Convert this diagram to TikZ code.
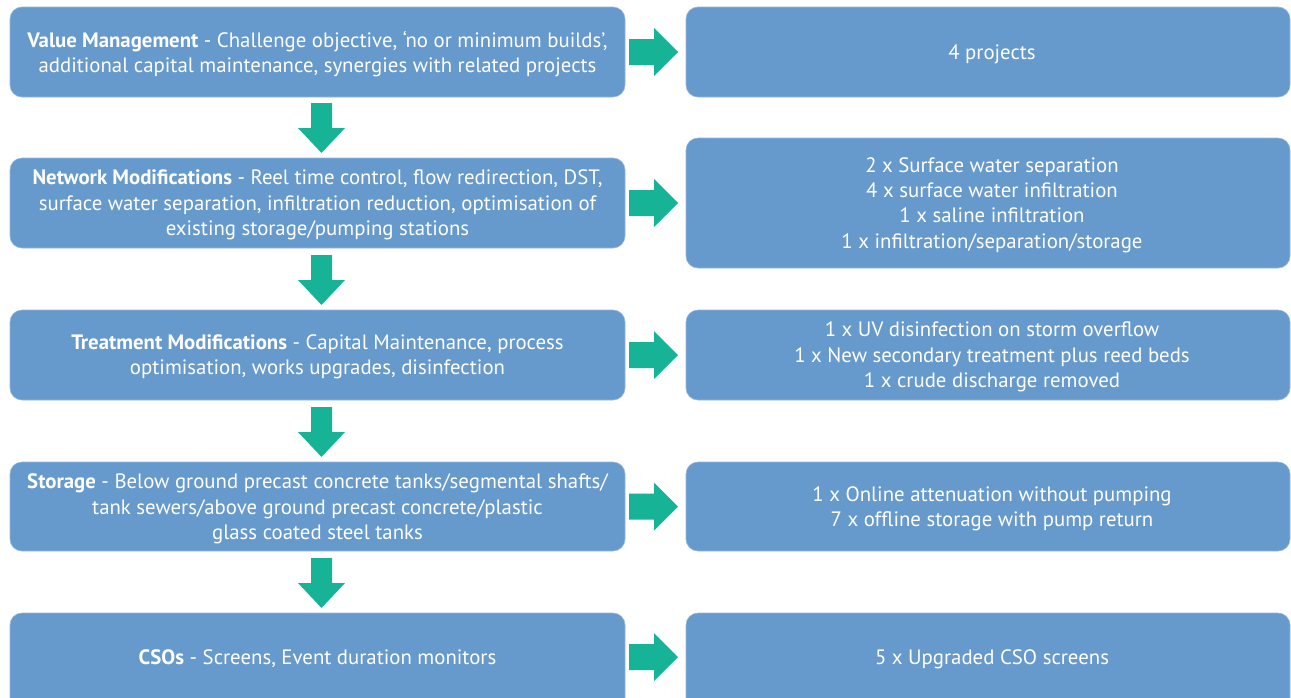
\documentclass[tikz,border=0pt]{standalone}
\usepackage{fontspec}
\setmainfont{PT Sans}
\definecolor{boxblue}{HTML}{6699CC}
\definecolor{arrowgreen}{HTML}{16B396}
\tikzset{
  x=1pt, y=-1pt,
  flowbox/.style={fill=boxblue, draw=boxblue!70!white, line width=0.6pt, rounded corners=12pt},
  boxtext/.style={text=white, align=center, font=\fontsize{20.8}{25.4}\selectfont, inner sep=0pt},
  garrow/.style={fill=arrowgreen, draw=none},
}
\begin{document}
\begin{tikzpicture}
\useasboundingbox (0,0) rectangle (1291,697);
\clip (0,0) rectangle (1291,697);
% left boxes
\draw[flowbox] (10,7) rectangle (625,97);
\draw[flowbox] (10,158) rectangle (625,248);
\draw[flowbox] (10,310) rectangle (625,400);
\draw[flowbox] (10,462) rectangle (625,551);
\draw[flowbox] (10,613) rectangle (625,715);
% right boxes
\draw[flowbox] (686,7) rectangle (1290,97);
\draw[flowbox] (686,138) rectangle (1290,268);
\draw[flowbox] (686,310) rectangle (1290,400);
\draw[flowbox] (686,462) rectangle (1290,551);
\draw[flowbox] (686,613) rectangle (1290,715);
% texts
\node[boxtext] (l1) at (317.5,54) {\textbf{Value Management} - Challenge objective, ‘no or minimum builds’,\\ additional capital maintenance, synergies with related projects};
\node[boxtext] (l2) at (317.5,205) {\textbf{Network Modifications} - Reel time control, flow redirection, DST,\\ surface water separation, infiltration reduction, optimisation of\\ existing storage/pumping stations};
\node[boxtext] (l3) at (317.5,357) {\textbf{Treatment Modifications} - Capital Maintenance, process\\ optimisation, works upgrades, disinfection};
\node[boxtext] (l4) at (317.5,509) {\textbf{Storage} - Below ground precast concrete tanks/segmental shafts/\\ tank sewers/above ground precast concrete/plastic\\ glass coated steel tanks};
\node[boxtext] (l5) at (317.5,659) {\textbf{CSOs} - Screens, Event duration monitors};
\node[boxtext] (r1) at (992,54) {4 projects};
\node[boxtext] (r2) at (992,205) {2 x Surface water separation\\ 4 x surface water infiltration\\ 1 x saline infiltration\\ 1 x infiltration/separation/storage};
\node[boxtext] (r3) at (992,357) {1 x UV disinfection on storm overflow\\ 1 x New secondary treatment plus reed beds\\ 1 x crude discharge removed};
\node[boxtext] (r4) at (992,509) {1 x Online attenuation without pumping\\ 7 x offline storage with pump return};
\node[boxtext] (r5) at (992,659) {5 x Upgraded CSO screens};
% right arrows
\foreach \cy in {52,203,355,506.5,657}{
  \fill[garrow] (629,\cy-13) -- (654,\cy-13) -- (654,\cy-24) -- (678,\cy) -- (654,\cy+24) -- (654,\cy+13) -- (629,\cy+13) -- cycle;
}
% down arrows
\foreach \ty/\by in {103/153, 255/305, 407/457, 558/608}{
  \fill[garrow] (311,\ty) -- (332,\ty) -- (332,\by-25) -- (345,\by-25) -- (321.5,\by) -- (298,\by-25) -- (311,\by-25) -- cycle;
}
\end{tikzpicture}
\end{document}
